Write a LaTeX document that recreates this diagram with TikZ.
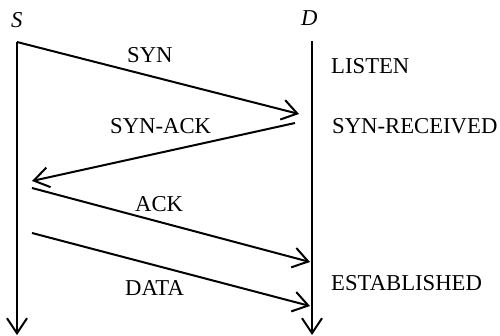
\documentclass[tikz,border=0pt]{standalone}
\usepackage{fontspec}
\setmainfont{Liberation Serif}
\usetikzlibrary{arrows.meta}
\begin{document}
\begin{tikzpicture}[x=1pt,y=-1pt,
  msg/.style={line width=2pt,-{Straight Barb[length=15pt,width=20pt]}},
  lbl/.style={font=\fontsize{22.7}{26}\selectfont,inner sep=0pt,anchor=base west},
  party/.style={font=\fontsize{22.7}{26}\selectfont\itshape,inner sep=0pt,anchor=base west}]
\useasboundingbox (0,0) rectangle (500,335);
% timelines
\coordinate (s0) at (17,42);
\coordinate (s1) at (17,335);
\coordinate (d0) at (312,41);
\coordinate (d1) at (312,335);
\node[party] (S) at (11,27) {S};
\node[party] (D) at (301,25) {D};
\draw[msg] (s0) -- (s1);
\draw[msg] (d0) -- (d1);
% messages
\coordinate (a0) at (17,42);
\coordinate (a1) at (299,114);
\coordinate (b0) at (295,123);
\coordinate (b1) at (32,181);
\coordinate (c0) at (32,188);
\coordinate (c1) at (310,262);
\coordinate (e0) at (32,233);
\coordinate (e1) at (310,306);
\draw[msg] (a0) -- (a1);
\draw[msg] (b0) -- (b1);
\draw[msg] (c0) -- (c1);
\draw[msg] (e0) -- (e1);
\node[lbl] (tsyn) at (127,62) {SYN};
\node[lbl] (tsynack) at (110,133) {SYN-ACK};
\node[lbl] (tack) at (135,211) {ACK};
\node[lbl] (tdata) at (125,295) {DATA};
\node[lbl] (tlisten) at (331,73) {LISTEN};
\node[lbl] (tsynrec) at (332,133) {SYN-RECEIVED};
\node[lbl] (testab) at (331,290) {ESTABLISHED};
\end{tikzpicture}
\end{document}
